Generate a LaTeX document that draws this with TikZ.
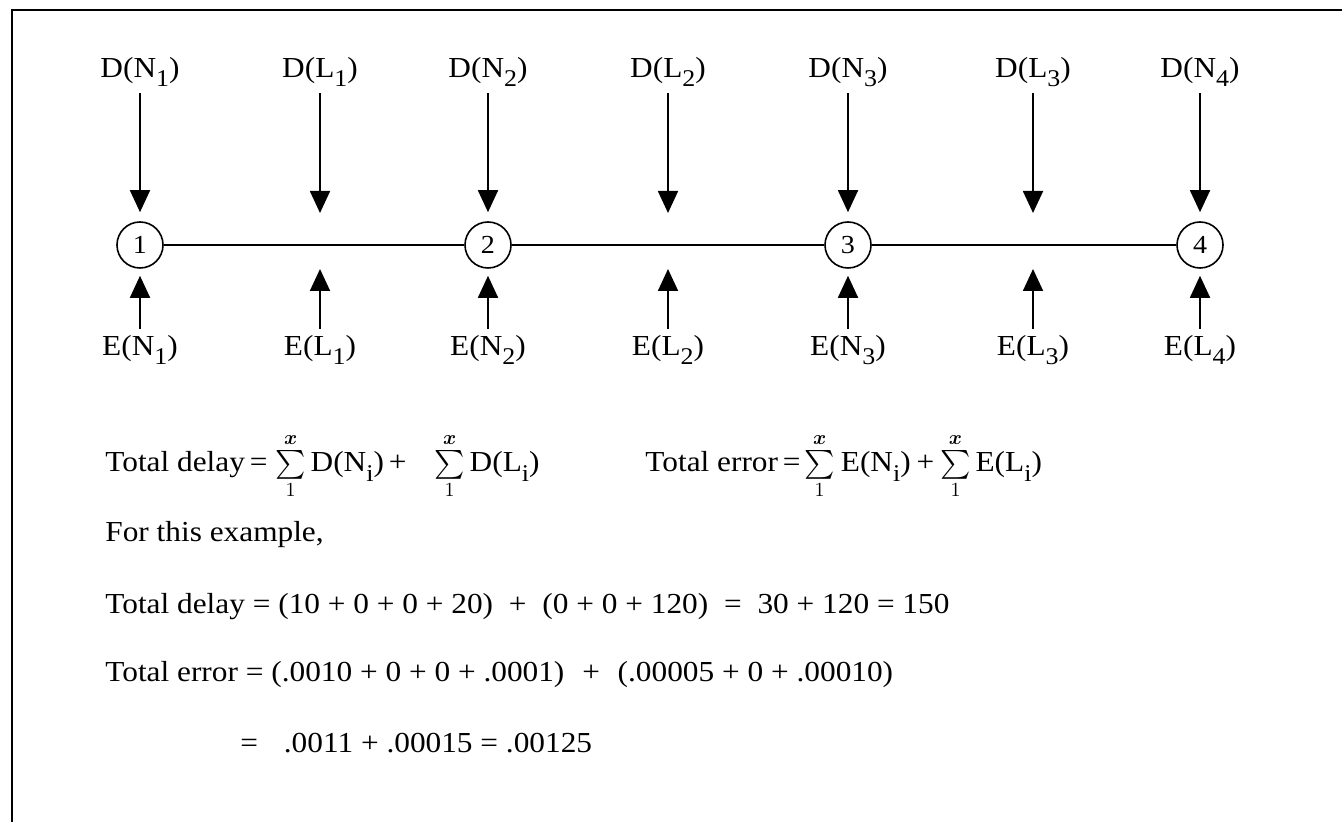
\documentclass[tikz,border=0pt]{standalone}
\usepackage{fontspec}
\setmainfont[FakeStretch=1.08]{Liberation Serif}
\usetikzlibrary{arrows.meta,positioning}

\newcommand\idx[1]{\raisebox{-.7ex}{\fontsize{12}{12}\selectfont #1}}
\newcommand\sumx{\ensuremath{\mathop{\textstyle\sum}\limits_{1}^{\boldsymbol{x}}}}
\usepackage{amsmath}

\begin{document}
\begin{tikzpicture}[
  x=0.5pt,y=-0.5pt,
  >={Triangle[width=10pt,length=11pt]},
  site/.style={circle,draw,line width=0.8pt,minimum size=23pt,inner sep=0pt,
    font=\fontsize{13}{15}\selectfont},
  lbl/.style={inner sep=0pt,font=\fontsize{14.5}{16}\selectfont},
  txt/.style={anchor=base west,inner sep=0pt,font=\fontsize{14.5}{16}\selectfont},
  feed/.style={->,line width=0.9pt},
  link/.style={line width=0.8pt}
]
  \useasboundingbox (0,0) rectangle (1342,822);
  \draw[line width=1pt] (12,10) rectangle (1352,832);

  % nodes and links
  \node[site] (n1) at (140,245) {1};
  \node[site] (n2) at (488,245) {2};
  \node[site] (n3) at (848,245) {3};
  \node[site] (n4) at (1200,245) {4};
  \coordinate (l1) at (320,245);
  \coordinate (l2) at (668,245);
  \coordinate (l3) at (1033,245);

  \draw[link] (n1) -- (n2);
  \draw[link] (n2) -- (n3);
  \draw[link] (n3) -- (n4);

  % delays
  \node[lbl] (dn1) at (140,72) {D(N\idx{1})};
  \node[lbl] (dl1) at (320,72) {D(L\idx{1})};
  \node[lbl] (dn2) at (488,72) {D(N\idx{2})};
  \node[lbl] (dl2) at (668,72) {D(L\idx{2})};
  \node[lbl] (dn3) at (848,72) {D(N\idx{3})};
  \node[lbl] (dl3) at (1033,72) {D(L\idx{3})};
  \node[lbl] (dn4) at (1200,72) {D(N\idx{4})};

  \draw[feed,shorten <=3pt,shorten >=4.5pt] (dn1) -- (n1);
  \draw[feed,shorten <=3pt,shorten >=16pt] (dl1) -- (l1);
  \draw[feed,shorten <=3pt,shorten >=4.5pt] (dn2) -- (n2);
  \draw[feed,shorten <=3pt,shorten >=16pt] (dl2) -- (l2);
  \draw[feed,shorten <=3pt,shorten >=4.5pt] (dn3) -- (n3);
  \draw[feed,shorten <=3pt,shorten >=16pt] (dl3) -- (l3);
  \draw[feed,shorten <=3pt,shorten >=4.5pt] (dn4) -- (n4);

  % errors
  \node[lbl] (en1) at (140,350) {E(N\idx{1})};
  \node[lbl] (el1) at (320,350) {E(L\idx{1})};
  \node[lbl] (en2) at (488,350) {E(N\idx{2})};
  \node[lbl] (el2) at (668,350) {E(L\idx{2})};
  \node[lbl] (en3) at (848,350) {E(N\idx{3})};
  \node[lbl] (el3) at (1033,350) {E(L\idx{3})};
  \node[lbl] (el4) at (1200,350) {E(L\idx{4})};

  \draw[feed,shorten <=3pt,shorten >=3.5pt] (en1) -- (n1);
  \draw[feed,shorten <=3pt,shorten >=12pt] (el1) -- (l1);
  \draw[feed,shorten <=3pt,shorten >=3.5pt] (en2) -- (n2);
  \draw[feed,shorten <=3pt,shorten >=12pt] (el2) -- (l2);
  \draw[feed,shorten <=3pt,shorten >=3.5pt] (en3) -- (n3);
  \draw[feed,shorten <=3pt,shorten >=12pt] (el3) -- (l3);
  \draw[feed,shorten <=3pt,shorten >=3.5pt] (el4) -- (n4);

  % totals
  \node[txt] (sumd) at (105,472) {Total delay\,=\hspace{4pt}\sumx\,D(N\idx{i})\,+\hspace{14pt}\sumx\,D(L\idx{i})};
  \node[txt] (sume) at (645,472) {Total error\,=\hspace{2pt}\sumx\hspace{3pt}E(N\idx{i})\hspace{3pt}+\hspace{3pt}\sumx\,E(L\idx{i})};
  \node[txt] (expl) at (105,542) {For this example,};
  \node[txt] (tdel) at (105,613) {Total delay = (10 + 0 + 0 + 20) \hspace{4pt}+\hspace{4pt} (0 + 0 + 120) \hspace{4pt}=\hspace{4pt} 30 + 120 = 150};
  \node[txt] (terr) at (105,681) {Total error = (.0010 + 0 + 0 + .0001) \hspace{5pt}+\hspace{5pt} (.00005 + 0 + .00010)};
  \node[txt] (tres) at (240,752) {= \hspace{9pt}.0011 + .00015 = .00125};
\end{tikzpicture}
\end{document}
